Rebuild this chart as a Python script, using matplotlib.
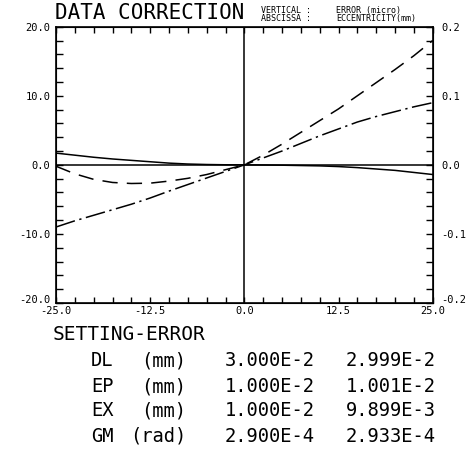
import numpy as np
import matplotlib
matplotlib.use("Agg")
import matplotlib.pyplot as plt
from matplotlib.ticker import MultipleLocator, FormatStrFormatter

# eccentricity (mm) vs error (micro)
ecc = [-25, -22.5, -20, -17.5, -15, -12.5, -10, -7.5, -5, -2.5, 0,
       2.5, 5, 7.5, 10, 12.5, 15, 17.5, 20, 22.5, 25]
err_solid = [1.7, 1.4, 1.1, 0.85, 0.65, 0.45, 0.25, 0.12, 0.05, 0.01, 0.0,
             -0.02, -0.05, -0.1, -0.15, -0.25, -0.4, -0.6, -0.8, -1.1, -1.4]
err_dash = [-0.2, -1.3, -2.1, -2.55, -2.7, -2.65, -2.35, -1.95, -1.4, -0.7, 0.0,
            1.4, 3.0, 4.7, 6.4, 8.1, 10.0, 11.9, 13.8, 15.8, 18.0]
err_dashdot = [-9.0, -8.1, -7.3, -6.5, -5.7, -4.8, -3.8, -2.85, -1.9, -0.95, 0.0,
               1.0, 2.0, 3.1, 4.2, 5.2, 6.2, 7.0, 7.7, 8.4, 9.0]

left_ticks = [-20, -10, 0, 10, 20]
right_ticks = [-0.2, -0.1, 0.0, 0.1, 0.2]
x_ticks = [-25, -12.5, 0, 12.5, 25]

rows = ["DL", "EP", "EX", "GM"]
units = ["(mm)", "(mm)", "(mm)", "(rad)"]
set_vals = ["3.000E-2", "1.000E-2", "1.000E-2", "2.900E-4"]
calc_vals = ["2.999E-2", "1.001E-2", "9.899E-3", "2.933E-4"]

mono = "DejaVu Sans Mono"
W, H = 470, 449

fig = plt.figure(figsize=(W / 100, H / 100), dpi=100)
ax = fig.add_axes([56 / W, 1 - 303 / H, 376.7 / W, 276.3 / H])

ax.plot(ecc, err_solid, color="black", lw=1.1)
ax.plot(ecc, err_dash, color="black", lw=1.1, dashes=(10, 6))
ax.plot(ecc, err_dashdot, color="black", lw=1.1, dashes=(13, 3, 1.5, 3))
ax.axhline(0, color="black", lw=1.1)
ax.axvline(0, color="black", lw=1.1)

ax.set_xlim(-25, 25)
ax.set_ylim(-20, 20)
for s in ax.spines.values():
    s.set_linewidth(1.2)

ax.set_xticks(x_ticks)
ax.xaxis.set_major_formatter(FormatStrFormatter("%.1f"))
ax.xaxis.set_minor_locator(MultipleLocator(2.5))
ax.set_yticks(left_ticks)
ax.yaxis.set_major_formatter(FormatStrFormatter("%.1f"))
ax.yaxis.set_minor_locator(MultipleLocator(2))
ax.tick_params(axis="x", which="both", direction="in", top=True, bottom=True,
               length=4, width=1, pad=2.5)
ax.tick_params(axis="y", which="both", direction="in", left=True, right=False,
               length=5, width=1, pad=4)
for lab in ax.get_xticklabels() + ax.get_yticklabels():
    lab.set_family(mono)
    lab.set_fontsize(7.5)
ax.get_yticklabels()[0].set_va("baseline")

ax2 = ax.twinx()
ax2.set_ylim(-0.2, 0.2)
ax2.set_yticks(right_ticks)
ax2.yaxis.set_major_formatter(FormatStrFormatter("%.1f"))
ax2.yaxis.set_minor_locator(MultipleLocator(0.02))
ax2.tick_params(axis="y", which="both", direction="in", length=5, width=1, pad=6)
for lab in ax2.get_yticklabels():
    lab.set_family(mono)
    lab.set_fontsize(7.5)
ax2.get_yticklabels()[0].set_va("baseline")

# header
fig.text(55 / W, 1 - 13 / H, "DATA CORRECTION", family=mono, fontsize=15,
         ha="left", va="center")
fig.text(261 / W, 1 - 14.5 / H, "VERTICAL :\nABSCISSA :", family=mono,
         fontsize=6, ha="left", va="center", linespacing=0.85)
fig.text(336 / W, 1 - 14.5 / H, "ERROR (micro)\nECCENTRICITY(mm)", family=mono,
         fontsize=6, ha="left", va="center", linespacing=0.85)

# setting-error table
fig.text(53 / W, 1 - 335 / H, "SETTING-ERROR", family=mono, fontsize=14,
         ha="left", va="center")
row_y = [361, 387, 411, 436]
for yy, r, u, v1, v2 in zip(row_y, rows, units, set_vals, calc_vals):
    fig.text(91 / W, 1 - yy / H, r, family=mono, fontsize=13.5, ha="left", va="center")
    fig.text(186 / W, 1 - yy / H, u, family=mono, fontsize=13.5, ha="right", va="center")
    fig.text(225 / W, 1 - yy / H, v1, family=mono, fontsize=13.5, ha="left", va="center")
    fig.text(346 / W, 1 - yy / H, v2, family=mono, fontsize=13.5, ha="left", va="center")

fig.savefig("out.png", dpi=100)
